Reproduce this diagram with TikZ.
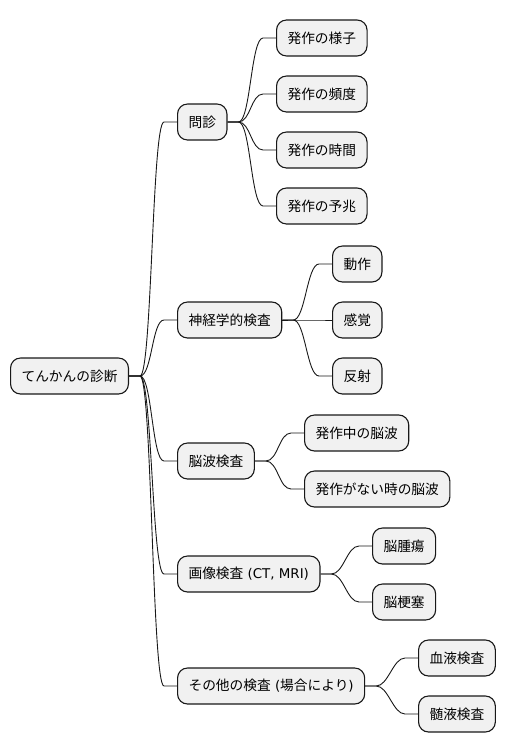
\documentclass[tikz,border=0pt]{standalone}
\usepackage{fontspec}
\setmainfont{Noto Sans CJK JP}
\newfontfamily\latinpart{DejaVu Sans}
\usepackage{xcolor}
\definecolor{MM_Fill}{HTML}{F1F1F1}
\definecolor{MM_Line}{HTML}{181818}

\begin{document}
\begin{tikzpicture}[
  x=1pt, y=-1pt,
  topic/.style={anchor=west, rectangle, rounded corners=10pt, draw=MM_Line, line width=1.1pt,
    fill=MM_Fill, minimum height=36pt, inner xsep=11pt, inner ysep=0pt,
    font=\fontsize{13.7}{16}\selectfont},
  branch/.style={draw=MM_Line, line width=0.9pt},
]
\useasboundingbox (0,0) rectangle (504,752);

% --- root ---
\node[topic] (root) at (10, 376) {てんかんの診断};

% --- first level ---
\node[topic] (monshin) at (177, 122) {問診};
\node[topic] (shinkei) at (177, 320) {神経学的検査};
\node[topic] (nouha) at (177, 461) {脳波検査};
\node[topic] (gazou) at (177, 574) {画像検査{\latinpart\fontsize{13.4}{16}\selectfont{} (CT, MRI)}};
\node[topic] (sonota) at (177, 686) {その他の検査{\latinpart\fontsize{13.4}{16}\selectfont{} (}場合により{\latinpart\fontsize{13.4}{16}\selectfont )}};

% --- second level ---
\node[topic] (yousu) at (276, 38) {発作の様子};
\node[topic] (hindo) at (276, 94) {発作の頻度};
\node[topic] (jikan) at (276, 150) {発作の時間};
\node[topic] (yochou) at (276, 206) {発作の予兆};
\node[topic] (dousa) at (332, 264) {動作};
\node[topic] (kankaku) at (332, 320) {感覚};
\node[topic] (hansha) at (332, 376) {反射};
\node[topic] (hossachu) at (304, 433) {発作中の脳波};
\node[topic] (hossanai) at (304, 489) {発作がない時の脳波};
\node[topic] (shuyou) at (372, 546) {脳腫瘍};
\node[topic] (kousoku) at (372, 602) {脳梗塞};
\node[topic] (ketsueki) at (418, 658) {血液検査};
\node[topic] (zuieki) at (418, 714) {髄液検査};

% --- branches ---
\foreach \from/\to in {
  root/monshin, root/shinkei, root/nouha, root/gazou, root/sonota,
  monshin/yousu, monshin/hindo, monshin/jikan, monshin/yochou,
  shinkei/dousa, shinkei/kankaku, shinkei/hansha,
  nouha/hossachu, nouha/hossanai,
  gazou/shuyou, gazou/kousoku,
  sonota/ketsueki, sonota/zuieki}
{
  \draw[branch] (\from.east) -- ++(11,0) .. controls +(12,0) and +(-12,0) .. ([xshift=-13pt]\to.west) -- (\to.west);
}

\end{tikzpicture}
\end{document}
